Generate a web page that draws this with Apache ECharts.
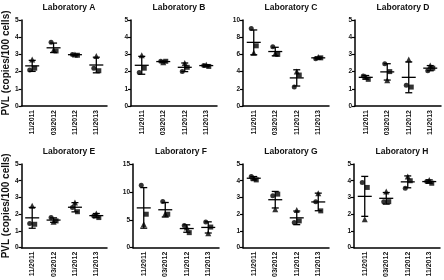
<!DOCTYPE html>
<html><head><meta charset="utf-8">
<script src="https://cdn.jsdelivr.net/npm/echarts@6/dist/echarts.min.js"></script>
<style>html,body{margin:0;padding:0;background:#fff}#c{width:444px;height:280px}</style>
</head><body><div id="c"></div>
<script>
const categories = ['11/2011','03/2012','11/2012','11/2013'];
const labNames = ['Laboratory A','Laboratory B','Laboratory C','Laboratory D','Laboratory E','Laboratory F','Laboratory G','Laboratory H'];
const yMaxes = [5,5,10,5,5,15,5,5];
const yIntervals = [1,1,2,1,1,5,1,1];

// replicate values per laboratory (circle, square, triangle markers)
const labA_circle   = [2.1, 3.7, 3.0, 2.2];
const labA_square   = [2.2, 3.2, 2.95, 2.05];
const labA_triangle = [2.7, 3.25, 3.0, 2.9];
const labB_circle   = [1.95, 2.6, 2.0, 2.35];
const labB_square   = [2.2, 2.6, 2.25, 2.3];
const labB_triangle = [2.95, 2.55, 2.5, 2.4];
const labC_circle   = [9.0, 6.9, 2.2, 5.5];
const labC_square   = [7.0, 6.0, 3.6, 5.6];
const labC_triangle = [6.2, 6.1, 4.0, 5.7];
const labD_circle   = [1.75, 2.45, 1.2, 2.05];
const labD_square   = [1.55, 2.0, 1.1, 2.2];
const labD_triangle = [1.7, 1.5, 2.7, 2.35];
const labE_circle   = [1.45, 1.8, 2.4, 1.9];
const labE_square   = [1.4, 1.6, 2.15, 1.8];
const labE_triangle = [2.5, 1.55, 2.7, 2.05];
const labF_circle   = [11.2, 8.3, 4.0, 4.6];
const labF_square   = [6.0, 6.0, 2.7, 3.7];
const labF_triangle = [4.2, 6.1, 3.6, 2.6];
const labG_circle   = [4.25, 3.1, 1.5, 2.75];
const labG_square   = [4.05, 3.2, 1.6, 2.2];
const labG_triangle = [4.15, 2.3, 2.25, 3.25];
const labH_circle   = [3.9, 2.75, 3.55, 3.95];
const labH_square   = [3.6, 2.75, 4.0, 3.85];
const labH_triangle = [1.7, 3.35, 4.25, 4.05];

const panels = [
  [labA_circle, labA_square, labA_triangle],
  [labB_circle, labB_square, labB_triangle],
  [labC_circle, labC_square, labC_triangle],
  [labD_circle, labD_square, labD_triangle],
  [labE_circle, labE_square, labE_triangle],
  [labF_circle, labF_square, labF_triangle],
  [labG_circle, labG_square, labG_triangle],
  [labH_circle, labH_square, labH_triangle]
];

const FONT = 'Liberation Sans, Arial, sans-serif';
const lefts = [21, 131, 243, 355, 21, 133, 243, 354];
const W = 86;
const tops = [20, 20, 20, 20, 164, 164, 164, 164];
const H = [86, 86, 86, 86, 87, 87, 87, 87];

const grids = [], xAxes = [], yAxes = [], series = [], titles = [];
const symbols = ['circle', 'rect', 'triangle'];
const offsets = [[-2.5, 0], [2.5, 0], [0, 0]];

panels.forEach((p, i) => {
  grids.push({left: lefts[i], top: tops[i], width: W, height: H[i]});
  titles.push({text: labNames[i], left: lefts[i] + W / 2, top: i < 4 ? -2 : 142, textAlign: 'center',
    textStyle: {fontFamily: FONT, fontSize: 8.5, fontWeight: 'bold', color: '#111'}});
  xAxes.push({type: 'category', gridIndex: i, data: categories,
    axisLine: {lineStyle: {color: '#000', width: 1.5}},
    axisTick: {alignWithLabel: true, length: 3, lineStyle: {color: '#000', width: 1.2}},
    axisLabel: {rotate: 90, fontSize: 7, fontWeight: 'bold', fontFamily: FONT, color: '#111', margin: 4},
    splitLine: {show: false}});
  yAxes.push({type: 'value', gridIndex: i, min: 0, max: yMaxes[i], interval: yIntervals[i],
    name: (i % 4 === 0) ? 'PVL (copies/100 cells)' : '', nameLocation: 'middle', nameGap: 10,
    nameTextStyle: {fontFamily: FONT, fontSize: 10, fontWeight: 'bold', color: '#111'},
    axisLine: {show: true, lineStyle: {color: '#000', width: 1.5}},
    axisTick: {show: true, length: 3, lineStyle: {color: '#000', width: 1.2}},
    axisLabel: {fontSize: 6.5, fontWeight: 'bold', fontFamily: FONT, color: '#111', margin: 3},
    splitLine: {show: false}});
  p.forEach((arr, k) => {
    series.push({type: 'scatter', xAxisIndex: i, yAxisIndex: i, symbol: symbols[k],
      symbolSize: k === 2 ? 6 : 5, symbolOffset: offsets[k],
      itemStyle: {color: '#000'}, data: arr.map((v, j) => [categories[j], v]), z: 3});
  });
  const stats = categories.map((c, j) => {
    const vals = p.map(a => a[j]);
    const m = vals.reduce((s, v) => s + v, 0) / vals.length;
    const sd = Math.sqrt(vals.reduce((s, v) => s + (v - m) * (v - m), 0) / (vals.length - 1));
    return [c, m, m - sd, m + sd];
  });
  series.push({type: 'custom', xAxisIndex: i, yAxisIndex: i, z: 4,
    renderItem: function (params, api) {
      const x = api.value(0);
      const pm = api.coord([x, api.value(1)]);
      const pl = api.coord([x, api.value(2)]);
      const ph = api.coord([x, api.value(3)]);
      const st = {stroke: '#000', lineWidth: 1.3};
      return {type: 'group', children: [
        {type: 'line', shape: {x1: pm[0] - 7, y1: pm[1], x2: pm[0] + 7, y2: pm[1]}, style: st},
        {type: 'line', shape: {x1: pl[0], y1: pl[1], x2: ph[0], y2: ph[1]}, style: st},
        {type: 'line', shape: {x1: pl[0] - 3.5, y1: pl[1], x2: pl[0] + 3.5, y2: pl[1]}, style: st},
        {type: 'line', shape: {x1: ph[0] - 3.5, y1: ph[1], x2: ph[0] + 3.5, y2: ph[1]}, style: st}
      ]};
    },
    encode: {x: 0, y: [1, 2, 3]},
    data: stats});
});

const chart = echarts.init(document.getElementById('c'), null, {renderer: 'canvas'});
chart.setOption({animation: false, backgroundColor: '#fff', title: titles,
  grid: grids, xAxis: xAxes, yAxis: yAxes, series: series});
</script></body></html>
